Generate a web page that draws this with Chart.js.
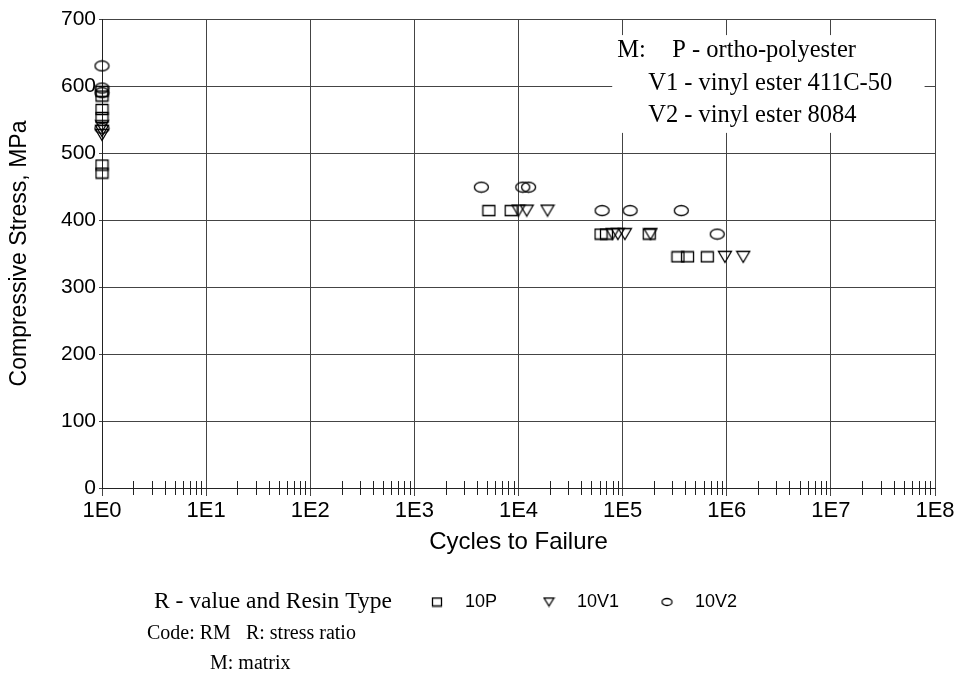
<!DOCTYPE html>
<html lang="en">
<head>
  <meta charset="utf-8">
  <title>Compressive Fatigue</title>
  <style>
    html, body { margin: 0; padding: 0; background: #fff; overflow: hidden; }
    #wrap { width: 963px; height: 673px; }
  </style>
</head>
<body>
<div id="wrap"><canvas id="fatigueCanvas" width="963" height="673"></canvas></div>
<script src="https://cdn.jsdelivr.net/npm/chart.js"></script>
<script>

   // data
   const decadeLabels = ['1E0', '1E1', '1E2', '1E3', '1E4', '1E5', '1E6', '1E7', '1E8'];
   const stressTicks = [0, 100, 200, 300, 400, 500, 600, 700];

   const p10Cycles = [1, 1, 1, 1, 1, 1, 5200, 8500, 62000, 70000, 180000, 340000, 420000, 650000];
   const p10Stress = [592, 585, 565, 553, 482, 470, 414, 414, 379, 379, 379, 345, 345, 345];

   const v1Cycles = [1, 1, 1, 10000, 12000, 19000, 80000, 90000, 105000, 185000, 960000, 1440000];
   const v1Stress = [540, 533, 527, 414, 414, 414, 379, 379, 379, 379, 345, 345];

   const v2Cycles = [1, 1, 1, 1, 4400, 11000, 12500, 63500, 118000, 366000, 810000];
   const v2Stress = [630, 597, 590, 537, 449, 449, 449, 414, 414, 414, 379];

   const noteLines = ['V1 - vinyl ester 411C-50', 'V2 - vinyl ester 8084'];

   const INK = '#000';
   const GRID = '#444';
   const SANS = '"Liberation Sans", Arial, sans-serif';
   const SERIF = '"Liberation Serif", "Times New Roman", serif';

   function makeMarker(kind, w, h){
      const c = document.createElement('canvas');
      c.width = w + 2;
      c.height = h + 2;
      const ctx = c.getContext('2d');
      ctx.strokeStyle = INK;
      ctx.lineWidth = 1.3;
      ctx.beginPath();
      if( kind == 'square' ){
         ctx.rect(1.5, 1.5, w - 1, h - 1);
      } else if( kind == 'tri' ){
         ctx.moveTo(1.5, 1.5);
         ctx.lineTo(w + 0.5, 1.5);
         ctx.lineTo((w + 2) / 2, h + 0.5);
         ctx.closePath();
      } else {
         ctx.ellipse((w + 2) / 2, (h + 2) / 2, (w - 1) / 2, (h - 1) / 2, 0, 0, Math.PI * 2);
      }
      ctx.stroke();
      return c;
   }

   const squareImg = makeMarker('square', 13, 11);
   const triImg = makeMarker('tri', 14, 12);
   const ovalImg = makeMarker('oval', 15, 11);
   const squareSmall = makeMarker('square', 10, 9);
   const triSmall = makeMarker('tri', 11, 9);
   const ovalSmall = makeMarker('oval', 11, 8);

   function toPoints(xs, ys){
      var out = [];
      for(i = 0; i < xs.length; ++i){
         out.push({ x: xs[i], y: ys[i] });
      }
      return out;
   }

   // white note box, drawn over the grid
   const notePlugin = {
      id: 'notes',
      beforeDatasetsDraw(chart){
         const ctx = chart.ctx;
         const xs = chart.scales.x, ys = chart.scales.y;
         const x0 = xs.getPixelForValue(Math.pow(10, 4.9));
         const x1 = xs.getPixelForValue(Math.pow(10, 7.9));
         const y0 = ys.getPixelForValue(676);
         const y1 = ys.getPixelForValue(530);
         ctx.save();
         ctx.fillStyle = '#fff';
         ctx.fillRect(x0, y0, x1 - x0, y1 - y0);
         ctx.fillStyle = '#000';
         ctx.font = '24.5px ' + SERIF;
         ctx.textBaseline = 'alphabetic';
         ctx.textAlign = 'left';
         ctx.fillText('M:', x0 + 5, y0 + 22);
         ctx.fillText('P - ortho-polyester', x0 + 60, y0 + 22);
         ctx.fillText(noteLines[0], x0 + 36, y0 + 55);
         ctx.fillText(noteLines[1], x0 + 36, y0 + 87);
         ctx.restore();
      },
      afterDraw(chart){
         const ctx = chart.ctx;
         const area = chart.chartArea;
         const xs = chart.scales.x;
         ctx.save();
         // minor log ticks straddling the axis
         ctx.strokeStyle = '#222';
         ctx.lineWidth = 1;
         for(d = 0; d < 8; ++d){
            for(k = 2; k < 10; ++k){
               const px = Math.round(xs.getPixelForValue(k * Math.pow(10, d))) + 0.5;
               ctx.beginPath();
               ctx.moveTo(px, area.bottom - 7);
               ctx.lineTo(px, area.bottom + 7);
               ctx.stroke();
            }
         }
         ctx.fillStyle = '#000';
         ctx.textBaseline = 'middle';
         ctx.textAlign = 'center';
         ctx.font = '24px ' + SANS;
         ctx.fillText('Cycles to Failure', (area.left + area.right) / 2, area.bottom + 54);

         // legend block
         const ly = area.bottom + 114;
         ctx.textAlign = 'left';
         ctx.font = '23.5px ' + SERIF;
         ctx.fillText('R - value and Resin Type', 154, ly);
         ctx.font = '20px ' + SERIF;
         ctx.fillText('Code: RM   R: stress ratio', 147, ly + 32);
         ctx.fillText('M: matrix', 210, ly + 62);
         ctx.font = '18px ' + SANS;
         ctx.drawImage(squareSmall, 437 - squareSmall.width / 2, ly - squareSmall.height / 2);
         ctx.fillText(chart.data.datasets[0].label, 465, ly);
         ctx.drawImage(triSmall, 549 - triSmall.width / 2, ly - triSmall.height / 2);
         ctx.fillText(chart.data.datasets[1].label, 577, ly);
         ctx.drawImage(ovalSmall, 667 - ovalSmall.width / 2, ly - ovalSmall.height / 2);
         ctx.fillText(chart.data.datasets[2].label, 695, ly);
         ctx.restore();
      }
   };

   const fatigueCanvas = document.getElementById('fatigueCanvas');

   var FatigueChart = new Chart(fatigueCanvas, {
      type: 'scatter',
      data: {
         datasets: [
            { label: '10P', data: toPoints(p10Cycles, p10Stress), pointStyle: squareImg, clip: false },
            { label: '10V1', data: toPoints(v1Cycles, v1Stress), pointStyle: triImg, clip: false },
            { label: '10V2', data: toPoints(v2Cycles, v2Stress), pointStyle: ovalImg, clip: false },
         ]
      },
      options: {
         responsive: false,
         animation: false,
         devicePixelRatio: 1,
         layout: { padding: { top: 19, right: 28, left: 0, bottom: 0 } },
         plugins: {
            legend: { display: false },
            tooltip: { enabled: false },
         },
         scales: {
            x: {
               type: 'logarithmic',
               min: 1,
               max: 1e8,
               afterBuildTicks: function(scale){
                  scale.ticks = decadeLabels.map(function(l, i){ return { value: Math.pow(10, i) }; });
               },
               afterFit: function(scale){ scale.height = 185; },
               ticks: {
                  autoSkip: false,
                  maxRotation: 0,
                  color: '#000',
                  font: { family: SANS, size: 22 },
                  padding: 2,
                  callback: function(v){
                     return decadeLabels[Math.round(Math.log10(v))];
                  },
               },
               grid: { color: GRID, tickColor: GRID, tickLength: 8, lineWidth: 1 },
               border: { color: '#222', width: 1 },
            },
            y: {
               min: 0,
               max: 700,
               afterBuildTicks: function(scale){
                  scale.ticks = stressTicks.map(function(v){ return { value: v }; });
               },
               afterFit: function(scale){ scale.width = 102; },
               ticks: {
                  color: '#000',
                  font: { family: SANS, size: 21 },
                  padding: 3,
               },
               grid: { color: GRID, tickColor: GRID, tickLength: 3, lineWidth: 1 },
               border: { color: '#222', width: 1 },
               title: {
                  display: true,
                  text: 'Compressive Stress, MPa',
                  color: '#000',
                  font: { family: SANS, size: 23 },
                  padding: { top: 6, bottom: 0 },
               },
            },
         },
      },
      plugins: [notePlugin],
   });

</script>
</body>
</html>
